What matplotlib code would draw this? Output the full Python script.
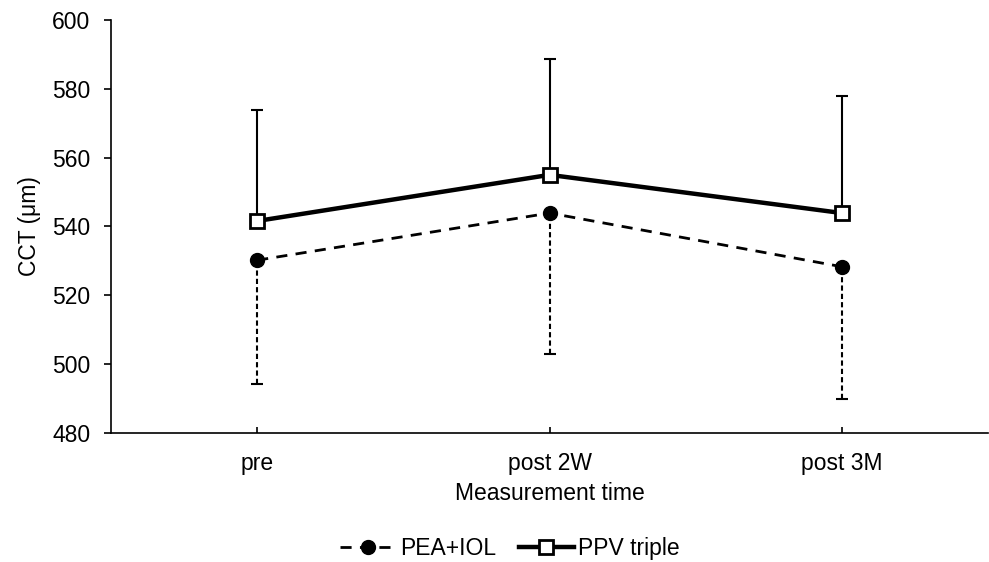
import numpy as np
import matplotlib.pyplot as plt

plt.rcParams['font.family'] = ['Liberation Sans', 'DejaVu Sans']

times = ['pre', 'post 2W', 'post 3M']
pea_mean = [530.2, 543.9, 528.3]
pea_sd = [36.0, 41.0, 38.4]
ppv_mean = [541.6, 555.0, 543.9]
ppv_sd = [32.2, 33.6, 34.0]

x = np.arange(len(times))

fig = plt.figure(figsize=(9.89, 5.62), dpi=100)
ax = fig.add_axes([0.1122, 0.2295, 0.887, 0.735])

# error bars: PEA downward dashed, PPV upward solid
eb1 = ax.errorbar(x, pea_mean, yerr=[pea_sd, np.zeros(3)], fmt='none',
                  ecolor='black', elinewidth=1.5, capsize=4, capthick=1.5, zorder=2)
eb1[2][0].set_linestyle((0, (2.5, 1.5)))
ax.errorbar(x, ppv_mean, yerr=[np.zeros(3), ppv_sd], fmt='none',
            ecolor='black', elinewidth=1.5, capsize=4, capthick=1.5, zorder=2)

ax.plot(x, pea_mean, color='black', lw=2, linestyle=(0, (4, 3)),
        marker='o', markersize=10, markerfacecolor='black', label='PEA+IOL', zorder=3)
ax.plot(x, ppv_mean, color='black', lw=3.2, marker='s', markersize=10,
        markerfacecolor='white', markeredgewidth=2, label='PPV triple', zorder=3)

ax.set_xlim(-0.5, 2.5)
ax.set_ylim(480, 600)
ax.set_yticks(np.arange(480, 601, 20))
ax.set_xticks(x)
ax.set_xticklabels(times)
ax.tick_params(axis='x', direction='in', length=4, width=1.2, labelsize=16.5, pad=14)
ax.tick_params(axis='y', length=5, width=1.2, labelsize=16.5, pad=10)
for s in ['left', 'bottom']:
    ax.spines[s].set_linewidth(1.2)
ax.spines['top'].set_visible(False)
ax.spines['right'].set_visible(False)
ax.set_xlabel('Measurement time', fontsize=16.5, labelpad=5)
ax.set_ylabel('CCT (μm)', fontsize=16.5, labelpad=8)

ax.legend(loc='center', bbox_to_anchor=(0.455, -0.28), ncol=2, frameon=False,
          fontsize=16.5, handlelength=2.4, columnspacing=1.0, handletextpad=0.2)

fig.savefig('out.png', dpi=100)
